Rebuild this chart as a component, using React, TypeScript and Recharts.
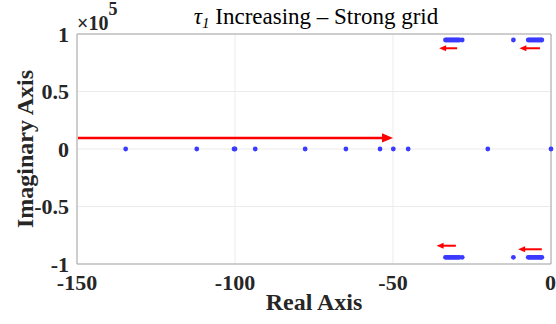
import { ScatterChart, Scatter, XAxis, YAxis, CartesianGrid, ReferenceLine, ReferenceArea } from 'recharts';

const realTicks = [-150, -100, -50, 0];
const imagTicks = [-100000, -50000, 0, 50000, 100000];

// poles sitting on the real axis
const realPoles = [-134.6, -112.1, -100.3, -100.0, -93.6, -77.8, -64.9, -54.1, -49.9, -45.2, -20.0, 0];

// oscillatory pole tracks (real parts), top and bottom are mirrored
const leftTrackRe = [-33.4, -33.0, -32.6, -32.2, -31.8, -31.4, -31.0, -30.6, -30.2, -29.8, -29.4, -29.0, -28.1];
const rightTrackRe = [-11.9, -7.2, -6.8, -6.4, -6.0, -5.6, -5.2, -4.8, -4.4, -4.0, -3.6, -3.2, -2.9];
const upperIm = 94800;
const lowerIm = -94200;

// annotation arrows
const arrowStartRe = [-149.7, -29.7, -3.5, -30.1, -2.9];
const arrowEndRe = [-50, -35.4, -10.0, -36.2, -10.4];
const arrowIm = [9600, 87600, 87600, -84100, -87200];
const arrowWidth = [2.6, 2, 2, 2, 2];
const arrowHead = [11, 7, 7, 7, 7];

const BLUE = '#3b3bff';
const RED = '#ff0000';
const TEXT = '#262626';
const SERIF = '"Times New Roman", "Liberation Serif", Times, serif';

const poles = [
  ...realPoles.map((x) => ({ x, y: 0 })),
  ...leftTrackRe.map((x) => ({ x, y: upperIm })),
  ...rightTrackRe.map((x) => ({ x, y: upperIm })),
  ...leftTrackRe.map((x) => ({ x, y: lowerIm })),
  ...rightTrackRe.map((x) => ({ x, y: lowerIm })),
];

const Dot = (props: any) => <circle cx={props.cx} cy={props.cy} r={2.4} fill={BLUE} />;

const Arrow = (props: any) => {
  const { x1, y1, x2, y2, w, head } = props;
  const dx = x2 - x1;
  const dy = y2 - y1;
  const len = Math.hypot(dx, dy) || 1;
  const ux = dx / len;
  const uy = dy / len;
  const half = head * 0.42;
  const bx = x2 - ux * head;
  const by = y2 - uy * head;
  return (
    <g>
      <line x1={x1} y1={y1} x2={bx + ux} y2={by + uy} stroke={RED} strokeWidth={w} />
      <polygon
        points={`${x2},${y2} ${bx - uy * half},${by + ux * half} ${bx + uy * half},${by - ux * half}`}
        fill={RED}
      />
    </g>
  );
};

const fmtImag = (v: number) => {
  const s = v / 100000;
  return s === 0 ? '0' : String(s);
};

export default function App() {
  return (
    <div style={{ position: 'absolute', left: 0, top: 0, width: 556, height: 324, background: '#fff' }}>
      <ScatterChart
        width={556}
        height={324}
        margin={{ top: 34, right: 5, left: 0, bottom: 0 }}
        style={{ fontFamily: SERIF }}
      >
        <CartesianGrid stroke="#ebebeb" />
        <XAxis
          type="number"
          dataKey="x"
          domain={[-150, 0]}
          ticks={realTicks}
          height={60}
          axisLine={false}
          tickLine={false}
          tickMargin={4}
          tick={{ fill: TEXT, fontSize: 22, fontWeight: 'bold', fontFamily: SERIF }}
          label={{
            value: 'Real Axis',
            position: 'insideBottom',
            offset: 14,
            fill: TEXT,
            fontSize: 24,
            fontWeight: 'bold',
            fontFamily: SERIF,
          }}
        />
        <YAxis
          type="number"
          dataKey="y"
          domain={[-100000, 100000]}
          ticks={imagTicks}
          width={77}
          axisLine={false}
          tickLine={false}
          tickFormatter={fmtImag}
          tick={{ fill: TEXT, fontSize: 22, fontWeight: 'bold', fontFamily: SERIF }}
          label={{
            value: 'Imaginary Axis',
            angle: -90,
            position: 'insideLeft',
            offset: 24,
            fill: TEXT,
            fontSize: 24,
            fontWeight: 'bold',
            fontFamily: SERIF,
            style: { textAnchor: 'middle' },
          }}
        />
        <ReferenceArea x1={-150} x2={0} y1={-100000} y2={100000} fill="none" stroke="#a6a6a6" strokeWidth={1} />
        <Scatter data={poles} shape={Dot} isAnimationActive={false} />
        {arrowStartRe.map((start, i) => (
          <ReferenceLine
            key={i}
            segment={[
              { x: start, y: arrowIm[i] },
              { x: arrowEndRe[i], y: arrowIm[i] },
            ]}
            shape={(p: any) => <Arrow {...p} w={arrowWidth[i]} head={arrowHead[i]} />}
          />
        ))}
      </ScatterChart>
      <svg
        width={556}
        height={324}
        style={{ position: 'absolute', left: 0, top: 0, pointerEvents: 'none' }}
        fontFamily={SERIF}
      >
        <text x={316} y={24} textAnchor="middle" fontSize={23} fill="#000">
          <tspan fontStyle="italic">τ</tspan>
          <tspan fontStyle="italic" fontSize={15} dy={4}>1</tspan>
          <tspan dy={-4}> Increasing – Strong grid</tspan>
        </text>
        <text x={77} y={30} fontSize={20} fontWeight="bold" fill={TEXT}>
          ×10
          <tspan fontSize={18} dy={-15}>5</tspan>
        </text>
      </svg>
    </div>
  );
}
